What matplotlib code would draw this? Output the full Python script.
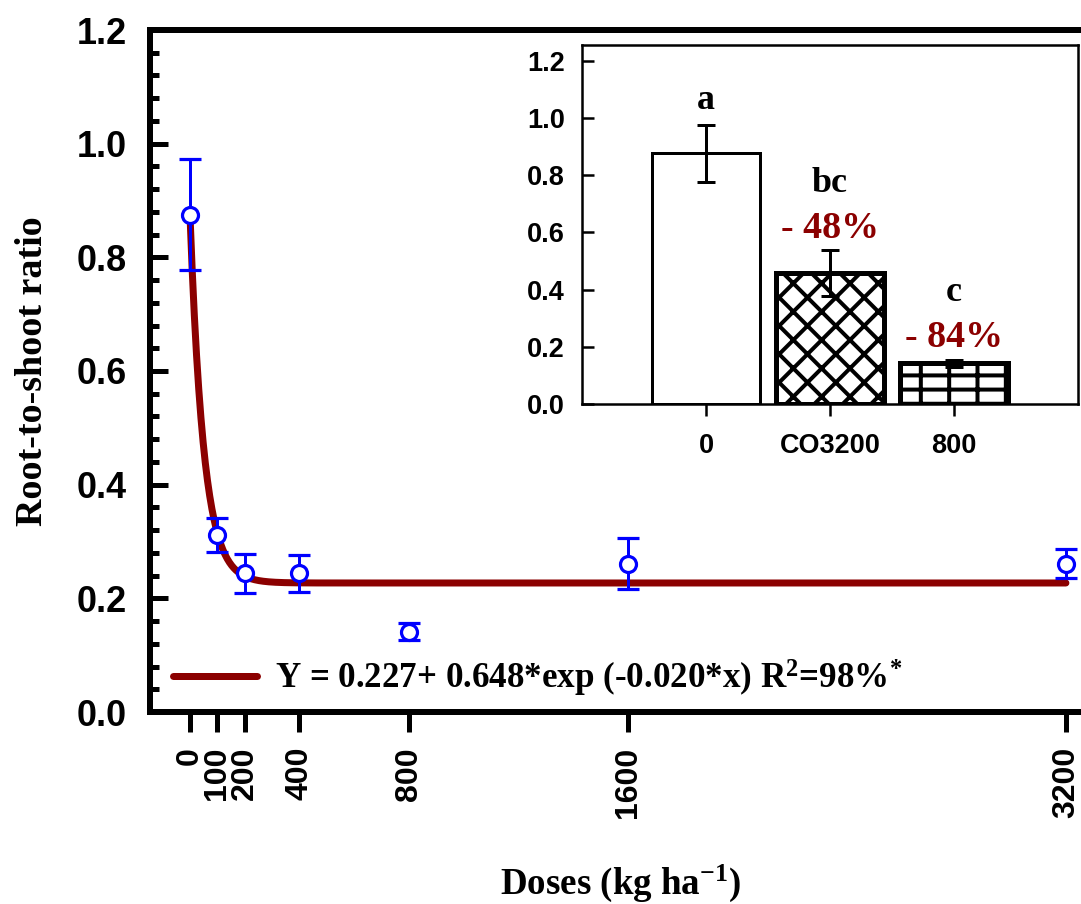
import numpy as np
import matplotlib.pyplot as plt
from matplotlib.ticker import MultipleLocator

DPI = 170


def px(v):
    # sizes in pixels, matplotlib wants points
    return v * 72 / DPI


# main plot: root-to-shoot ratio vs dose
doses = [0, 100, 200, 400, 800, 1600, 3200]
ratio = [0.875, 0.312, 0.244, 0.244, 0.141, 0.261, 0.261]
ratio_err = [0.098, 0.030, 0.034, 0.032, 0.015, 0.045, 0.026]

# fitted curve Y = a + b*exp(k*x)
fit_a = 0.227
fit_b = 0.648
fit_k = -0.020

# inset bars
treat = ["0", "CO3200", "800"]
treat_mean = [0.877, 0.457, 0.143]
treat_err = [0.100, 0.080, 0.012]
treat_group = ["a", "bc", "c"]
treat_change = ["", "- 48%", "- 84%"]
treat_hatch = ["", "xx", "+-"]

RED = "#8B0000"
SERIF = ["Liberation Serif", "DejaVu Serif"]

plt.rcParams["font.family"] = ["Liberation Sans", "DejaVu Sans"]
plt.rcParams["font.weight"] = "bold"
plt.rcParams["mathtext.fontset"] = "custom"
plt.rcParams["mathtext.rm"] = "Liberation Serif:bold"
plt.rcParams["mathtext.bf"] = "Liberation Serif:bold"
plt.rcParams["mathtext.it"] = "Liberation Serif:bold"
plt.rcParams["hatch.linewidth"] = px(4)

fig = plt.figure(figsize=(1081 / DPI, 904 / DPI), dpi=DPI)
ax = fig.add_axes([150 / 1081, 1 - 712 / 904, 940 / 1081, 682 / 904])

xs = np.linspace(0, 3200, 800)
ax.plot(xs, fit_a + fit_b * np.exp(fit_k * xs), color=RED, lw=px(7),
        solid_capstyle="round", zorder=2,
        label="Y = 0.227+ 0.648*exp (-0.020*x) R$^{2}$=98%$^{*}$")
ax.errorbar(doses, ratio, yerr=ratio_err, fmt="o", ms=px(16), mfc="white",
            mec="blue", mew=px(3.2), ecolor="blue", elinewidth=px(3),
            capsize=px(11.5), capthick=px(3), zorder=3)

ax.set_xlim(-146, 3288)
ax.set_ylim(0, 1.2)
ax.set_xticks(doses)
ax.set_xticklabels([str(d) for d in doses])
ax.set_yticks(np.arange(0, 1.21, 0.2))
ax.yaxis.set_minor_locator(MultipleLocator(0.04))
ax.yaxis.set_major_formatter(plt.FormatStrFormatter("%.1f"))

ax.tick_params(axis="y", which="major", direction="in", length=px(18),
               width=px(5), labelsize=px(36), pad=px(23))
ax.tick_params(axis="y", which="minor", direction="in", length=px(9),
               width=px(5))
ax.tick_params(axis="x", direction="out", length=px(20), width=px(5),
               labelsize=px(32), pad=px(15), labelrotation=90)
ax.tick_params(top=False, right=False)
for s in ax.spines.values():
    s.set_linewidth(px(6))

ax.set_ylabel("Root-to-shoot ratio", family=SERIF, weight="bold",
              size=px(38), labelpad=px(27))
ax.set_xlabel("Doses (kg ha$^{-1}$)", family=SERIF, weight="bold",
              size=px(37), labelpad=px(44))

ax.legend(loc="center left", bbox_to_anchor=(23 / 940, 34 / 682),
          frameon=False, handlelength=84 / 35, handletextpad=18 / 35,
          borderpad=0, borderaxespad=0,
          prop=dict(family=SERIF, weight="bold", size=px(35)))

# inset
ins = fig.add_axes([582 / 1081, 1 - 404 / 904, 496 / 1081, 359 / 904])
pos = np.arange(len(treat))
bars = ins.bar(pos, treat_mean, width=0.87, color="white",
               edgecolor="black", linewidth=[px(3), px(5), px(5)], zorder=2)
for b, h in zip(bars, treat_hatch):
    b.set_hatch(h)
ins.errorbar(pos, treat_mean, yerr=treat_err, fmt="none", ecolor="black",
             elinewidth=px(3), capsize=px(9), capthick=px(3), zorder=3)

for p, m, e, g, c in zip(pos, treat_mean, treat_err, treat_group, treat_change):
    top = m + e
    if c:
        ins.text(p, top + 0.045, c, ha="center", va="baseline", color=RED,
                 family=SERIF, weight="bold", size=px(38))
        ins.text(p, top + 0.205, g, ha="center", va="baseline",
                 family=SERIF, weight="bold", size=px(36))
    else:
        ins.text(p, top + 0.055, g, ha="center", va="baseline",
                 family=SERIF, weight="bold", size=px(36))

ins.set_xlim(-1.0, 3.0)
ins.set_ylim(0, 1.255)
ins.set_xticks(pos)
ins.set_xticklabels(treat)
ins.set_yticks(np.arange(0, 1.21, 0.2))
ins.yaxis.set_major_formatter(plt.FormatStrFormatter("%.1f"))
ins.tick_params(axis="y", direction="in", length=px(12), width=px(2.5),
                labelsize=px(27), pad=px(17))
ins.tick_params(axis="x", direction="out", length=px(12), width=px(2.5),
                labelsize=px(27), pad=px(17))
for s in ins.spines.values():
    s.set_linewidth(px(2.5))

fig.savefig("out.png", dpi=DPI)
